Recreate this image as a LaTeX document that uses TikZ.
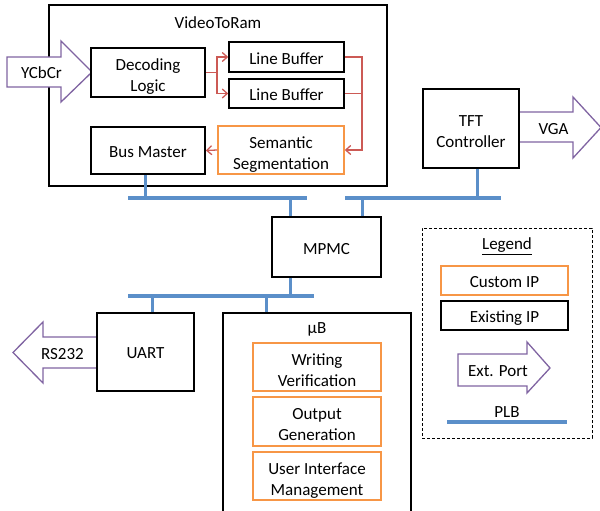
\documentclass[tikz,border=0pt]{standalone}
\usepackage{fontspec}
\setmainfont{Carlito}
\usetikzlibrary{arrows.meta}
\definecolor{customip}{HTML}{F79646}
\definecolor{extport}{HTML}{8064A2}
\definecolor{plb}{HTML}{5B8FC9}
\definecolor{dataflow}{HTML}{CC5A55}
% box texts sit slightly below the box centre: pad the top, trim the bottom
\newcommand\lowered[2]{\raisebox{0pt}[\dimexpr\height+#1\relax][\dimexpr\depth-#1\relax]{#2}}
\newcommand\twolines[2]{\lowered{4.5pt}{\begin{tabular}{@{}c@{}}#1\\#2\end{tabular}}}
\newcommand\oneline[1]{\lowered{3pt}{#1}}
\tikzset{
  every node/.style={font=\fontsize{17}{21}\selectfont},
  existing/.style={draw=black, line width=1.6pt, fill=white, inner sep=0pt, align=center},
  custom/.style={draw=customip, line width=1.6pt, fill=white, inner sep=0pt, align=center},
  port/.style={draw=extport, line width=1.3pt, fill=white, line join=miter},
  bus/.style={draw=plb, line width=3.5pt},
  tap/.style={draw=plb, line width=3pt},
  flow/.style={draw=dataflow, line width=1.3pt},
  flowarrow/.style={flow, -{Straight Barb[length=5pt,width=9pt,line width=1.3pt]}},
  lbl/.style={inner sep=0pt, align=center},
}
\begin{document}
\begin{tikzpicture}[x=1pt,y=-1pt]
\useasboundingbox (0,0) rectangle (600,511);

% ---------- VideoToRam frame ----------
\node[existing, minimum width=338pt, minimum height=181pt] (vtr) at (218,95.5) {};
\node[lbl] (vtrtitle) at (218,23) {VideoToRam};

% ---------- external ports ----------
\draw[port] (7,57) -- (61,57) -- (61,41) -- (92,72) -- (61,102) -- (61,87) -- (7,87) -- cycle;
\node[lbl] (ycbcr) at (41.5,73) {YCbCr};

\draw[port] (519,112) -- (573,112) -- (573,97) -- (601,127.5) -- (573,158) -- (573,142) -- (519,142);
\node[lbl] (vga) at (553.5,129.5) {VGA};

\draw[port] (97,337) -- (43,337) -- (43,322) -- (13,352.5) -- (43,383) -- (43,368) -- (97,368);
\node[lbl] (rs) at (62.5,354) {RS232};

% ---------- VideoToRam contents ----------
\node[existing, minimum width=114pt, minimum height=49pt] (dl) at (148,72.5) {\twolines{Decoding}{Logic}};
\node[existing, minimum width=115pt, minimum height=30pt] (lb1) at (286.5,57) {\oneline{Line Buffer}};
\node[existing, minimum width=115pt, minimum height=29pt] (lb2) at (286.5,93.5) {\oneline{Line Buffer}};
\node[existing, minimum width=114pt, minimum height=47pt] (bm) at (148,150.5) {\oneline{Bus Master}};
\node[custom, minimum width=126pt, minimum height=48pt] (ss) at (281,150) {\twolines{Semantic}{Segmentation}};

% data flow inside VideoToRam
\coordinate (split) at (217,72.5);
\coordinate (rail) at (362,57);
\draw[flow] (dl.east |- split) -- (split);
\draw[flowarrow] (split) |- (lb1.west);
\draw[flowarrow] (split) |- (lb2.west);
\draw[flow] (lb2.east) -- (lb2.east -| rail);
\draw[flowarrow] (lb1.east) -- (rail) |- (ss.east);
\draw[flowarrow] (ss.west) -- (bm.east);

% ---------- other IP blocks ----------
\node[existing, minimum width=96pt, minimum height=79pt] (tft) at (471,128.5) {\twolines{TFT}{Controller}};
\node[existing, minimum width=109pt, minimum height=60pt] (mpmc) at (326.5,247) {\oneline{MPMC}};
\node[existing, minimum width=97pt, minimum height=78pt] (uart) at (145.5,352) {\oneline{UART}};
\node[existing, minimum width=188pt, minimum height=207pt] (ub) at (317,416.5) {};
\node[lbl] (ubtitle) at (317,329) {µB};
\node[custom, minimum width=128pt, minimum height=48pt] (wv) at (317,367) {\twolines{Writing}{Verification}};
\node[custom, minimum width=128pt, minimum height=49pt] (og) at (317,421.5) {\twolines{Output}{Generation}};
\node[custom, minimum width=128pt, minimum height=48pt] (uim) at (317,476) {\twolines{User Interface}{Management}};

% ---------- PLB buses ----------
\coordinate (busAl) at (128,198);
\coordinate (busAr) at (307,198);
\coordinate (busBl) at (345,198);
\coordinate (busBr) at (501,198);
\coordinate (busCl) at (128,296);
\coordinate (busCr) at (314,296);
\draw[bus] (busAl) -- (busAr);
\draw[bus] (busBl) -- (busBr);
\draw[bus] (busCl) -- (busCr);

\coordinate (tapbm) at (145,198);
\coordinate (tapmA) at (290,198);
\coordinate (tapmB) at (362,198);
\coordinate (taptft) at (477,198);
\coordinate (tapmC) at (290,296);
\coordinate (tapuart) at (152,296);
\coordinate (tapub) at (266,296);
\draw[tap] (bm.south -| tapbm) -- (tapbm);
\draw[tap] (mpmc.north -| tapmA) -- (tapmA);
\draw[tap] (mpmc.north -| tapmB) -- (tapmB);
\draw[tap] (tft.south -| taptft) -- (taptft);
\draw[tap] (mpmc.south -| tapmC) -- (tapmC);
\draw[tap] (uart.north -| tapuart) -- (tapuart);
\draw[tap] (ub.north -| tapub) -- (tapub);

% ---------- legend ----------
\node[draw=black, line width=1pt, dash pattern=on 3pt off 2pt, minimum width=170pt, minimum height=210pt, inner sep=0pt] (legend) at (507,333) {};
\node[lbl] (legendtitle) at (507,246) {\underline{Legend}};
\node[custom, minimum width=127pt, minimum height=29pt] (lgcustom) at (504.5,280.5) {\lowered{2.5pt}{Custom IP}};
\node[existing, minimum width=127pt, minimum height=29pt] (lgexisting) at (504.5,315.5) {\lowered{2.5pt}{Existing IP}};
\draw[port] (458,354) -- (527,354) -- (527,342) -- (550,368) -- (527,393) -- (527,386) -- (458,386) -- cycle;
\node[lbl] (lgport) at (498,371) {Ext. Port};
\node[lbl] (lgplb) at (507,412) {PLB};
\coordinate (lgbusl) at (447,422);
\coordinate (lgbusr) at (567,422);
\draw[bus] (lgbusl) -- (lgbusr);
\end{tikzpicture}
\end{document}
